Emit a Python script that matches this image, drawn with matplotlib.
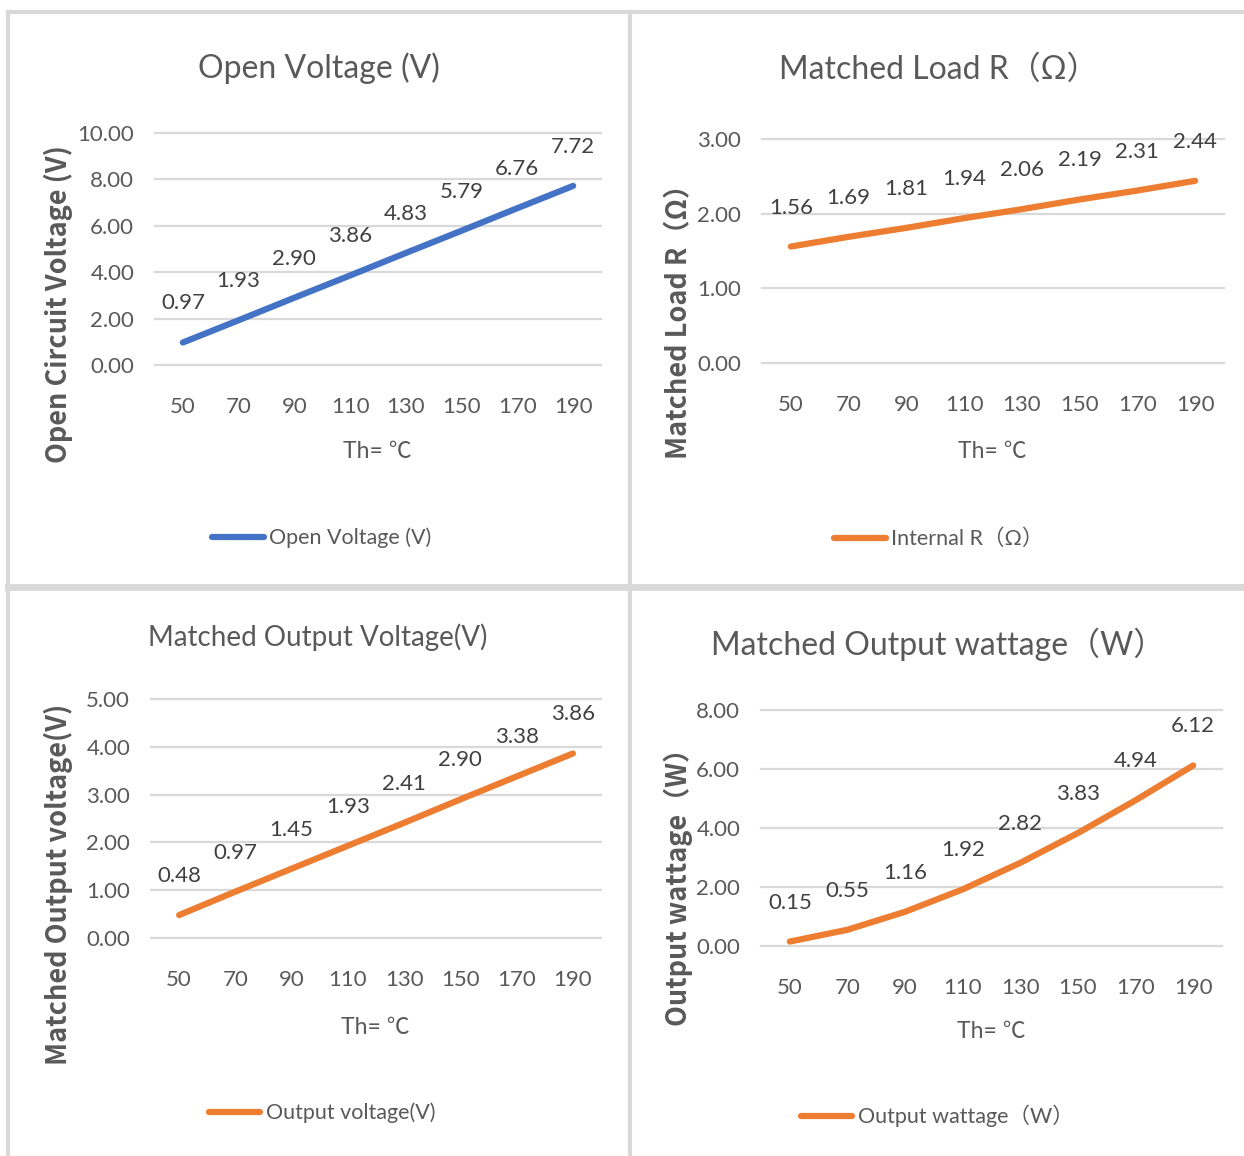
import matplotlib.pyplot as plt
from matplotlib.lines import Line2D

# data
temps = [50, 70, 90, 110, 130, 150, 170, 190]
open_voltage = [0.97, 1.93, 2.90, 3.86, 4.83, 5.79, 6.76, 7.72]
internal_r = [1.56, 1.69, 1.81, 1.94, 2.06, 2.19, 2.31, 2.44]
output_voltage = [0.48, 0.97, 1.45, 1.93, 2.41, 2.90, 3.38, 3.86]
output_wattage = [0.15, 0.55, 1.16, 1.92, 2.82, 3.83, 4.94, 6.12]

plt.rcParams['font.family'] = ['Lato', 'Noto Sans CJK SC', 'DejaVu Sans']

W, H = 1244, 1156
BLUE = '#4472C4'
ORANGE = '#ED7D31'
GRID = '#D9D9D9'
TXT = '#595959'

fig = plt.figure(figsize=(W / 100, H / 100), dpi=100)


def fx(px):
    return px / W


def fy(py):
    return 1 - py / H


# panel frame lines
frame = [
    ((8, 1244), (12, 12), 3),
    ((8, 8), (12, 1156), 3),
    ((630, 630), (12, 1156), 3),
    ((8, 1244), (587, 587), 5),
]
for xs, ys, lw in frame:
    fig.add_artist(Line2D([fx(x) for x in xs], [fy(y) for y in ys],
                          color=GRID, lw=lw, transform=fig.transFigure))

# one entry per panel: values, colour, title, y label, legend, ticks, pixel boxes
panels = [
    dict(y=open_voltage, color=BLUE, title='Open Voltage (V)', tsize=23,
         ylabel='Open Circuit Voltage (V)', legend='Open Voltage (V)',
         yticks=[0, 2, 4, 6, 8, 10], box=(155, 133, 601, 365),
         title_xy=(319, 68), xl_xy=(377, 451), yl_xy=(58, 304), lg_xy=(322, 538)),
    dict(y=internal_r, color=ORANGE, title='Matched Load R（Ω）', tsize=23,
         ylabel='Matched Load R（Ω）', legend='Internal R（Ω）',
         yticks=[0, 1, 2, 3], box=(762, 139, 1224, 363),
         title_xy=(939, 70), xl_xy=(992, 451), yl_xy=(678, 315), lg_xy=(939, 539)),
    dict(y=output_voltage, color=ORANGE, title='Matched Output Voltage(V)', tsize=20,
         ylabel='Matched Output voltage(V)', legend='Output voltage(V)',
         yticks=[0, 1, 2, 3, 4, 5], box=(151, 699, 601, 938),
         title_xy=(318, 637), xl_xy=(375, 1027), yl_xy=(58, 884), lg_xy=(322, 1113)),
    dict(y=output_wattage, color=ORANGE, title='Matched Output wattage（W）', tsize=23,
         ylabel='Output wattage（W）', legend='Output wattage（W）',
         yticks=[0, 2, 4, 6, 8], box=(761, 710, 1222, 946),
         title_xy=(938, 644), xl_xy=(991, 1031), yl_xy=(678, 880), lg_xy=(937, 1116)),
]

for p in panels:
    l, t, r, b = p['box']
    ax = fig.add_axes([fx(l), fy(b), (r - l) / W, (b - t) / H])
    ax.set_xlim(40, 200)
    ax.set_ylim(p['yticks'][0], p['yticks'][-1])
    for v in p['yticks']:
        ax.axhline(v, color=GRID, lw=1.6, zorder=0, clip_on=False)
    line, = ax.plot(temps, p['y'], color=p['color'], lw=4.5,
                    solid_capstyle='round', solid_joinstyle='round',
                    clip_on=False, label=p['legend'])
    for xv, yv in zip(temps, p['y']):
        ax.annotate(f'{yv:.2f}', (xv, yv), xytext=(0, 39), textcoords='offset pixels',
                    ha='center', va='center', fontsize=16, color='#404040')
    ax.set_xticks(temps)
    ax.set_xticklabels([str(v) for v in temps])
    ax.set_yticks(p['yticks'])
    ax.set_yticklabels([f'{v:.2f}' for v in p['yticks']])
    ax.tick_params(length=0, labelsize=16, labelcolor=TXT)
    ax.tick_params(axis='y', pad=15)
    ax.tick_params(axis='x', pad=23)
    for s in ax.spines.values():
        s.set_visible(False)
    ax.patch.set_visible(False)

    fig.text(fx(p['title_xy'][0]), fy(p['title_xy'][1]), p['title'],
             ha='center', va='center', fontsize=p['tsize'], color=TXT)
    fig.text(fx(p['xl_xy'][0]), fy(p['xl_xy'][1]), 'Th= ℃',
             ha='center', va='center', fontsize=16.5, color=TXT)
    fig.text(fx(p['yl_xy'][0]), fy(p['yl_xy'][1]), p['ylabel'], rotation=90,
             ha='center', va='center', fontsize=19.5, color=TXT, fontweight='bold',
             family=['Noto Sans CJK SC', 'DejaVu Sans'])
    fig.legend(handles=[line], loc='center',
               bbox_to_anchor=(fx(p['lg_xy'][0]), fy(p['lg_xy'][1])),
               frameon=False, fontsize=15.5, handlelength=2.4, handletextpad=0.25,
               labelcolor=TXT)

fig.savefig('out.png', dpi=100)
